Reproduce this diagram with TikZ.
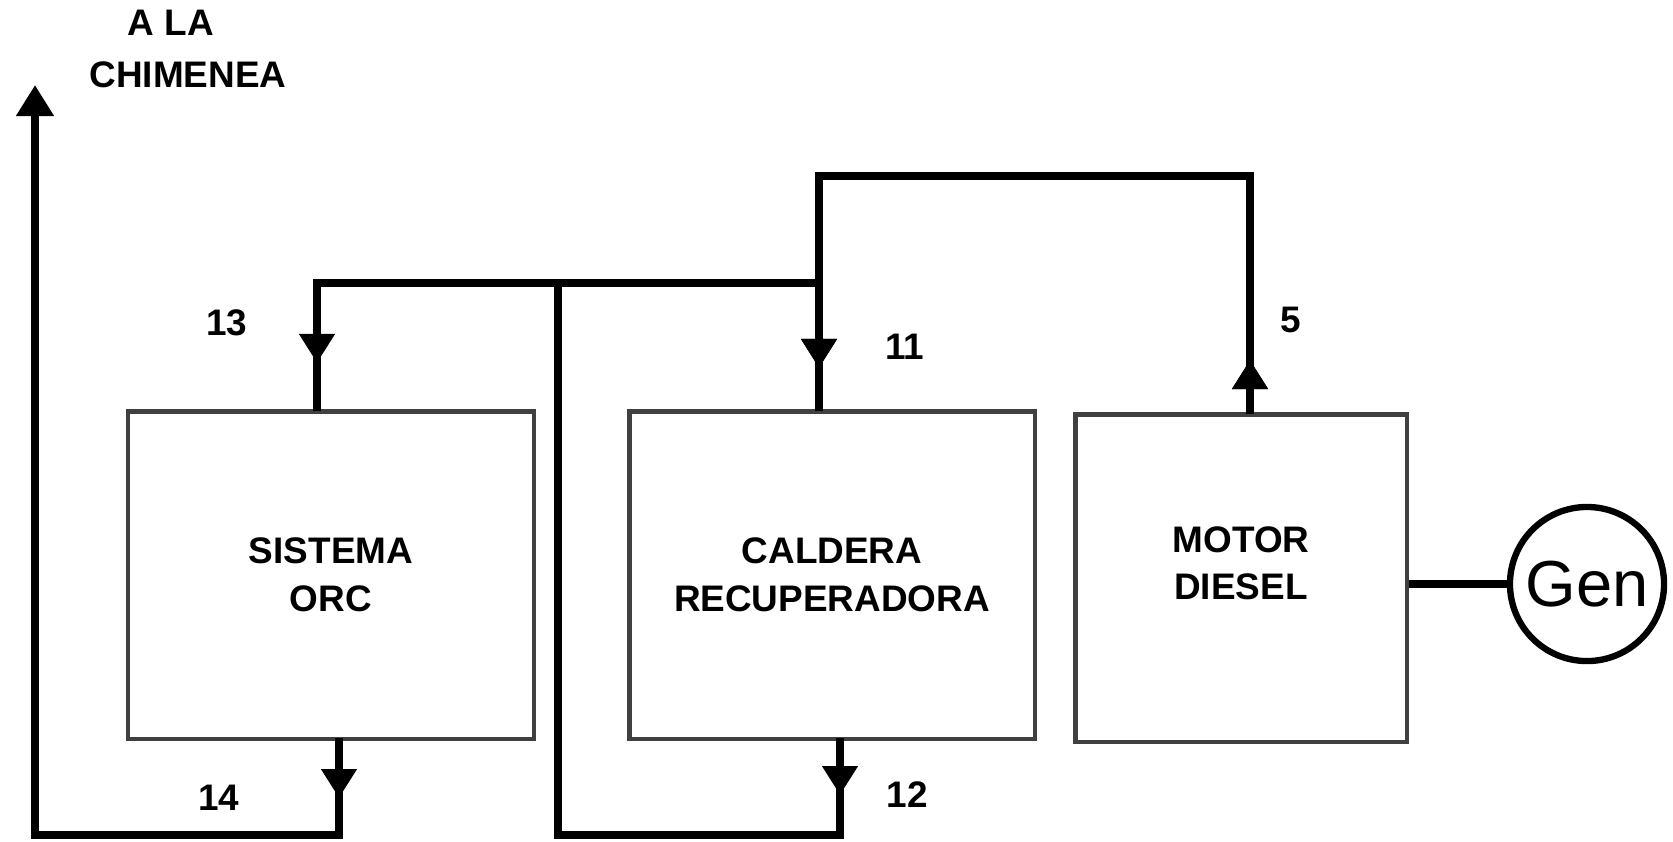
\documentclass[tikz,border=0pt]{standalone}
\usepackage{fontspec}
\setmainfont{Liberation Sans}
\usetikzlibrary{arrows.meta, decorations.markings}

\begin{document}
\begin{tikzpicture}[
  x=0.01cm, y=-0.01cm,
  % --- Box styles ---
  unitbox/.style={
    rectangle, draw=black!75, line width=1.2pt,
    minimum width=4.05cm, minimum height=3.27cm,
    align=center, inner sep=0pt,
    font=\bfseries\fontsize{10.5}{13.6}\selectfont
  },
  gencirc/.style={circle, draw, line width=1.8pt,
    minimum size=1.54cm, inner sep=0pt,
    font=\fontsize{18.5}{20}\selectfont},
  % --- Lines ---
  flow/.style={line width=2.2pt, color=black},
  tipat/.style={postaction={decorate}, decoration={markings,
    mark=at position #1 with {\arrow{Triangle[width=3.4mm, length=2.9mm]}}}},
  % --- Labels ---
  numlbl/.style={font=\bfseries\fontsize{10.5}{12}\selectfont},
]
\useasboundingbox (0,0) rectangle (1673,841);

% ===================== UNITS =====================
\node[unitbox] (orc) at (331,575) {SISTEMA\\ORC};
\node[unitbox] (cal) at (832,575) {CALDERA\\RECUPERADORA};
\node[unitbox, minimum width=3.31cm, text depth=8.5pt] (mot) at (1241,578)
  {MOTOR\\DIESEL};
\node[gencirc] (gen) at (1587,584) {Gen};

% ================ CONNECTION POINTS ================
\coordinate (motout) at (1250,414);
\coordinate (loopr) at (1250,176);
\coordinate (loopl) at (819,176);
\coordinate (calin) at (819,411);
\coordinate (tee) at (819,283);
\coordinate (orctop) at (317,283);
\coordinate (orcin) at (317,411);
\coordinate (orcout) at (339,738);
\coordinate (orcbot) at (339,835);
\coordinate (stackbot) at (35,835);
\coordinate (stack) at (35,85);
\coordinate (calout) at (840,738);
\coordinate (calbot) at (840,835);
\coordinate (bybot) at (558,835);
\coordinate (bytop) at (558,283);

% ================ GAS FLOW LINES ================
\draw[flow, tipat=0.54cm, tipat=-0.43cm]
  (motout) -- (loopr) -- (loopl) -- (calin);

\draw[flow, tipat=-0.48cm] (tee) -- (orctop) -- (orcin);

\draw[flow, tipat=0.57cm] (calout) -- (calbot) -- (bybot) -- (bytop);

\draw[flow, tipat=0.60cm, -{Triangle[width=3.6mm, length=3.1mm]}]
  (orcout) -- (orcbot) -- (stackbot) -- (stack);

\draw[flow] (gen.west -| mot.east) -- (gen.west);

% ================ LABELS ================
\node[numlbl] (l5) at (1291,320) {5};
\node[numlbl] (l11) at (905,347) {11};
\node[numlbl] (l12) at (907,795) {12};
\node[numlbl] (l13) at (227,323) {13};
\node[numlbl] (l14) at (219,798) {14};
\node[numlbl] (ala) at (171,23) {A LA};
\node[numlbl] (chim) at (188,75) {CHIMENEA};

\end{tikzpicture}
\end{document}
